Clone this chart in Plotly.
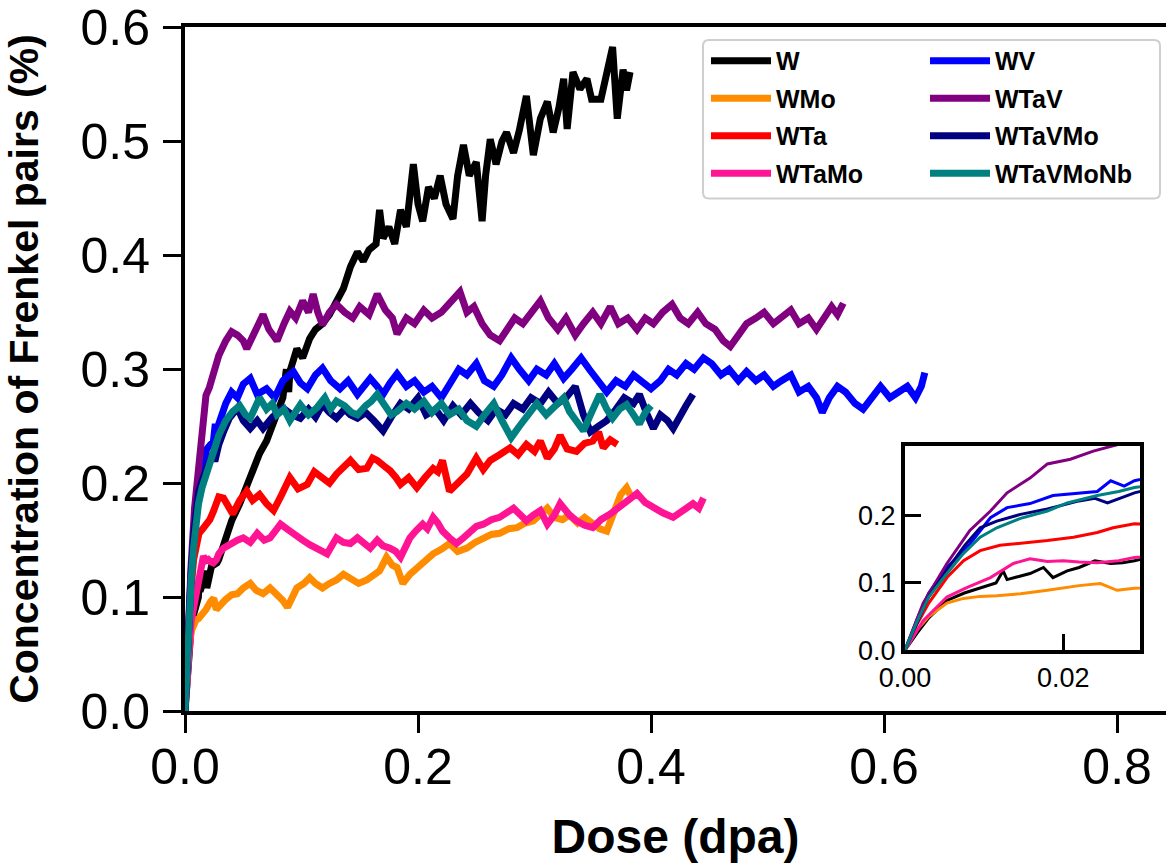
import plotly.graph_objects as go

# ---------------- data (dose in dpa, concentration in %) ----------------
W_x = [0, 0.0015, 0.003, 0.0053, 0.0075, 0.0095, 0.0115, 0.0124, 0.0129, 0.0145, 0.0158, 0.0175, 0.0187, 0.0205, 0.022, 0.024, 0.026, 0.0275, 0.029,
       0.035, 0.04, 0.047, 0.052, 0.056, 0.06, 0.064, 0.07, 0.076, 0.08, 0.084, 0.087, 0.089, 0.09, 0.096, 0.101, 0.107, 0.112, 0.118, 0.124,
       0.13, 0.136, 0.142, 0.148, 0.153, 0.158, 0.164, 0.167, 0.17, 0.175, 0.18, 0.185, 0.19, 0.196, 0.2, 0.204, 0.209, 0.214, 0.219, 0.224,
       0.23, 0.234, 0.239, 0.244, 0.25, 0.255, 0.258, 0.262, 0.267, 0.272, 0.276, 0.282, 0.287, 0.293, 0.299, 0.305, 0.311, 0.316, 0.321,
       0.325, 0.328, 0.333, 0.339, 0.345, 0.349, 0.357, 0.367, 0.371, 0.376, 0.379, 0.382]
W_y = [0, 0.025, 0.048, 0.074, 0.085, 0.093, 0.1, 0.118, 0.105, 0.11, 0.114, 0.123, 0.108, 0.118, 0.123, 0.133, 0.129, 0.13, 0.133,
       0.15, 0.167, 0.182, 0.195, 0.208, 0.215, 0.226, 0.237, 0.255, 0.265, 0.275, 0.3, 0.28, 0.298, 0.318, 0.31, 0.327, 0.335, 0.34, 0.348,
       0.36, 0.371, 0.39, 0.403, 0.395, 0.405, 0.41, 0.44, 0.415, 0.425, 0.41, 0.44, 0.425, 0.48, 0.445, 0.43, 0.46, 0.45, 0.47, 0.445,
       0.432, 0.47, 0.497, 0.47, 0.482, 0.43, 0.47, 0.502, 0.48, 0.5, 0.508, 0.49, 0.51, 0.54, 0.488, 0.52, 0.535, 0.508, 0.53,
       0.555, 0.511, 0.561, 0.546, 0.555, 0.537, 0.537, 0.583, 0.52, 0.563, 0.545, 0.561]

WMo_x = [0, 0.0015, 0.003, 0.0053, 0.0074, 0.0095, 0.0116, 0.0146, 0.018, 0.022, 0.0247, 0.0268, 0.029,
         0.035, 0.04, 0.045, 0.05, 0.056, 0.061, 0.067, 0.073, 0.079, 0.084, 0.088, 0.092, 0.096, 0.102, 0.107, 0.112, 0.118, 0.124,
         0.13, 0.136, 0.142, 0.149, 0.156, 0.162, 0.167, 0.173, 0.178, 0.182, 0.187, 0.193, 0.199, 0.206, 0.213, 0.22, 0.227, 0.234,
         0.242, 0.249, 0.256, 0.263, 0.27, 0.278, 0.285, 0.292, 0.299, 0.305, 0.311, 0.317, 0.324, 0.33, 0.337, 0.343, 0.35, 0.356,
         0.362, 0.368, 0.374, 0.379, 0.382]
WMo_y = [0, 0.03, 0.05, 0.07, 0.077, 0.08, 0.081, 0.084, 0.089, 0.096, 0.099, 0.089, 0.092,
         0.098, 0.102, 0.103, 0.108, 0.112, 0.106, 0.103, 0.108, 0.103, 0.097, 0.091, 0.1, 0.108, 0.112, 0.117, 0.112, 0.108, 0.112,
         0.115, 0.12, 0.117, 0.112, 0.115, 0.12, 0.123, 0.135, 0.128, 0.126, 0.112, 0.12, 0.126, 0.132, 0.138, 0.142, 0.147, 0.14,
         0.143, 0.148, 0.152, 0.155, 0.156, 0.16, 0.161, 0.165, 0.167, 0.172, 0.178, 0.17, 0.168, 0.172, 0.165, 0.17, 0.165, 0.16,
         0.158, 0.175, 0.19, 0.196, 0.19]

WTa_x = [0, 0.0015, 0.003, 0.0053, 0.0074, 0.0095, 0.012, 0.0146, 0.018, 0.0213, 0.0243, 0.0263, 0.029,
         0.033, 0.037, 0.041, 0.047, 0.053, 0.058, 0.064, 0.07, 0.076, 0.083, 0.09, 0.097, 0.105, 0.111, 0.118, 0.124, 0.13, 0.136,
         0.142, 0.149, 0.156, 0.161, 0.165, 0.171, 0.176, 0.181, 0.185, 0.192, 0.199, 0.206, 0.213, 0.217, 0.221, 0.227, 0.234,
         0.242, 0.246, 0.25, 0.256, 0.262, 0.27, 0.279, 0.286, 0.293, 0.3, 0.305, 0.311, 0.317, 0.322, 0.328, 0.336, 0.343, 0.35,
         0.355, 0.359, 0.365, 0.371]
WTa_y = [0, 0.038, 0.07, 0.108, 0.133, 0.148, 0.156, 0.159, 0.163, 0.168, 0.175, 0.182, 0.188,
         0.187, 0.18, 0.173, 0.185, 0.193, 0.185, 0.19, 0.182, 0.176, 0.19, 0.205, 0.195, 0.199, 0.21, 0.205, 0.2, 0.208, 0.215,
         0.22, 0.212, 0.213, 0.222, 0.22, 0.215, 0.211, 0.205, 0.199, 0.205, 0.196, 0.205, 0.213, 0.21, 0.22, 0.193, 0.2,
         0.208, 0.215, 0.222, 0.212, 0.22, 0.225, 0.231, 0.225, 0.234, 0.228, 0.237, 0.222, 0.23, 0.242, 0.23, 0.228, 0.235, 0.237,
         0.245, 0.231, 0.238, 0.234]

WTaMo_x = [0, 0.0023, 0.0053, 0.0078, 0.0108, 0.0137, 0.0158, 0.018, 0.02, 0.022, 0.0243, 0.027, 0.029,
           0.033, 0.039, 0.045, 0.05, 0.056, 0.062, 0.068, 0.073, 0.078, 0.082, 0.09, 0.095, 0.101, 0.107, 0.113, 0.122, 0.126, 0.13,
           0.136, 0.142, 0.148, 0.153, 0.159, 0.165, 0.17, 0.176, 0.181, 0.185, 0.189, 0.193, 0.198, 0.204, 0.208, 0.213, 0.217,
           0.221, 0.227, 0.233, 0.239, 0.245, 0.25, 0.256, 0.263, 0.27, 0.276, 0.282, 0.288, 0.293, 0.299, 0.305, 0.311, 0.317,
           0.322, 0.33, 0.336, 0.343, 0.35, 0.357, 0.365, 0.372, 0.38, 0.388, 0.395, 0.402, 0.41, 0.419, 0.427, 0.436, 0.441, 0.445]
WTaMo_y = [0, 0.044, 0.079, 0.093, 0.108, 0.129, 0.136, 0.132, 0.133, 0.131, 0.13, 0.133, 0.138,
           0.143, 0.147, 0.15, 0.152, 0.148, 0.156, 0.15, 0.152, 0.16, 0.164, 0.158, 0.155, 0.15, 0.146, 0.143, 0.138, 0.145, 0.152,
           0.148, 0.147, 0.152, 0.147, 0.143, 0.15, 0.145, 0.143, 0.14, 0.135, 0.145, 0.152, 0.158, 0.164, 0.16, 0.17, 0.165,
           0.158, 0.152, 0.147, 0.152, 0.158, 0.162, 0.164, 0.168, 0.17, 0.174, 0.178, 0.172, 0.167, 0.172, 0.176, 0.164, 0.172,
           0.182, 0.172, 0.167, 0.163, 0.161, 0.168, 0.173, 0.178, 0.184, 0.191, 0.183, 0.178, 0.174, 0.17, 0.176, 0.182, 0.178, 0.187]

WV_x = [0, 0.0015, 0.003, 0.0053, 0.0082, 0.0108, 0.0129, 0.0158, 0.0187, 0.022, 0.0243, 0.026, 0.0277, 0.029,
        0.035, 0.04, 0.045, 0.05, 0.056, 0.062, 0.07, 0.077, 0.084, 0.093, 0.099, 0.105, 0.112, 0.118, 0.125, 0.133, 0.14, 0.148,
        0.154, 0.159, 0.165, 0.17, 0.176, 0.182, 0.19, 0.197, 0.205, 0.212, 0.22, 0.228, 0.235, 0.242, 0.25, 0.257, 0.265, 0.272,
        0.28, 0.287, 0.295, 0.302, 0.31, 0.317, 0.325, 0.332, 0.34, 0.347, 0.355, 0.362, 0.37, 0.378, 0.385, 0.392, 0.4, 0.408,
        0.415, 0.422, 0.43, 0.437, 0.445, 0.452, 0.46, 0.467, 0.475, 0.482, 0.49, 0.497, 0.505, 0.512, 0.52, 0.527, 0.535, 0.542,
        0.547, 0.553, 0.56, 0.567, 0.575, 0.582, 0.59, 0.597, 0.605, 0.612, 0.62, 0.627, 0.632, 0.635]
WV_y = [0, 0.045, 0.085, 0.123, 0.158, 0.197, 0.212, 0.218, 0.23, 0.234, 0.236, 0.252, 0.244, 0.252,
        0.27, 0.28, 0.275, 0.287, 0.292, 0.278, 0.283, 0.275, 0.29, 0.298, 0.288, 0.283, 0.295, 0.301, 0.29, 0.283, 0.29, 0.278,
        0.285, 0.292, 0.285, 0.278, 0.288, 0.296, 0.285, 0.29, 0.28, 0.285, 0.275, 0.29, 0.3, 0.295, 0.305, 0.29, 0.285, 0.295,
        0.31, 0.3, 0.29, 0.3, 0.295, 0.305, 0.292, 0.3, 0.31, 0.3, 0.29, 0.28, 0.29, 0.285, 0.295, 0.29, 0.283, 0.29,
        0.3, 0.295, 0.305, 0.3, 0.31, 0.305, 0.295, 0.3, 0.29, 0.298, 0.29, 0.295, 0.285, 0.29, 0.295, 0.28, 0.285, 0.275,
        0.262, 0.275, 0.285, 0.28, 0.27, 0.265, 0.275, 0.285, 0.275, 0.28, 0.285, 0.275, 0.285, 0.297]

WTaV_x = [0, 0.0023, 0.0053, 0.0082, 0.0108, 0.0129, 0.0158, 0.018, 0.0209, 0.0238, 0.0263, 0.029,
          0.035, 0.04, 0.045, 0.05, 0.053, 0.058, 0.063, 0.067, 0.072, 0.079, 0.085, 0.09, 0.095, 0.101, 0.106, 0.11, 0.114, 0.118,
          0.124, 0.13, 0.137, 0.144, 0.15, 0.158, 0.165, 0.172, 0.178, 0.182, 0.19, 0.197, 0.205, 0.212, 0.22, 0.228, 0.236, 0.242,
          0.248, 0.255, 0.262, 0.27, 0.276, 0.283, 0.29, 0.297, 0.305, 0.312, 0.32, 0.327, 0.335, 0.342, 0.35, 0.357, 0.365, 0.372,
          0.38, 0.388, 0.395, 0.402, 0.41, 0.418, 0.425, 0.432, 0.44, 0.447, 0.455, 0.462, 0.468, 0.475, 0.482, 0.49, 0.497, 0.505,
          0.512, 0.52, 0.527, 0.535, 0.542, 0.548, 0.555, 0.56, 0.565]
WTaV_y = [0, 0.07, 0.129, 0.178, 0.207, 0.234, 0.256, 0.277, 0.284, 0.296, 0.304, 0.312,
          0.325, 0.333, 0.33, 0.325, 0.318, 0.33, 0.34, 0.348, 0.335, 0.325, 0.34, 0.351, 0.345, 0.36, 0.35, 0.366, 0.35, 0.339,
          0.35, 0.357, 0.35, 0.345, 0.355, 0.348, 0.366, 0.352, 0.345, 0.331, 0.345, 0.34, 0.352, 0.345, 0.35, 0.36, 0.368, 0.35,
          0.355, 0.34, 0.33, 0.325, 0.335, 0.345, 0.34, 0.35, 0.36, 0.345, 0.335, 0.345, 0.33, 0.34, 0.35, 0.34, 0.355, 0.34,
          0.345, 0.335, 0.345, 0.34, 0.35, 0.357, 0.345, 0.34, 0.35, 0.34, 0.335, 0.325, 0.32, 0.33, 0.34, 0.345, 0.35, 0.34,
          0.345, 0.352, 0.34, 0.345, 0.335, 0.345, 0.355, 0.348, 0.358]

WTaVMo_x = [0, 0.0015, 0.003, 0.0053, 0.0075, 0.0095, 0.0116, 0.0146, 0.018, 0.022, 0.024, 0.0256, 0.0275, 0.029,
            0.033, 0.038, 0.045, 0.05, 0.056, 0.062, 0.067, 0.075, 0.084, 0.092, 0.099, 0.106, 0.112, 0.118, 0.124, 0.13, 0.137,
            0.142, 0.148, 0.155, 0.162, 0.17, 0.177, 0.185, 0.192, 0.2, 0.207, 0.215, 0.222, 0.23, 0.237, 0.245, 0.252, 0.26,
            0.267, 0.275, 0.282, 0.29, 0.297, 0.305, 0.312, 0.32, 0.327, 0.335, 0.342, 0.348, 0.355, 0.362, 0.37, 0.377, 0.385,
            0.39, 0.396, 0.402, 0.408, 0.414, 0.419, 0.425, 0.43, 0.436]
WTaVMo_y = [0, 0.04, 0.08, 0.119, 0.155, 0.182, 0.192, 0.202, 0.21, 0.222, 0.226, 0.219, 0.228, 0.234,
            0.245, 0.257, 0.266, 0.255, 0.248, 0.255, 0.248, 0.258, 0.266, 0.26, 0.257, 0.265, 0.258, 0.269, 0.262, 0.257, 0.265,
            0.26, 0.257, 0.262, 0.255, 0.246, 0.258, 0.27, 0.265, 0.275, 0.26, 0.265, 0.255, 0.268, 0.26, 0.27, 0.262, 0.255,
            0.265, 0.26, 0.27, 0.265, 0.275, 0.27, 0.28, 0.27, 0.275, 0.285, 0.26, 0.245, 0.25, 0.255, 0.265, 0.275, 0.27,
            0.278, 0.262, 0.248, 0.26, 0.255, 0.248, 0.26, 0.268, 0.278]

WTaVMoNb_x = [0, 0.0015, 0.003, 0.0053, 0.0074, 0.0095, 0.0116, 0.0146, 0.018, 0.0205, 0.0243, 0.027, 0.029,
              0.035, 0.041, 0.047, 0.052, 0.056, 0.06, 0.064, 0.07, 0.075, 0.079, 0.085, 0.09, 0.095, 0.099, 0.106, 0.113, 0.12,
              0.125, 0.13, 0.137, 0.143, 0.148, 0.155, 0.16, 0.165, 0.172, 0.177, 0.182, 0.19, 0.197, 0.205, 0.212, 0.22, 0.227,
              0.235, 0.242, 0.25, 0.257, 0.265, 0.272, 0.28, 0.287, 0.295, 0.302, 0.31, 0.317, 0.325, 0.33, 0.336, 0.342, 0.348,
              0.356, 0.362, 0.367, 0.373, 0.379, 0.385, 0.39, 0.395, 0.4]
WTaVMoNb_y = [0, 0.042, 0.079, 0.114, 0.144, 0.168, 0.182, 0.196, 0.207, 0.219, 0.23, 0.236, 0.242,
              0.255, 0.263, 0.268, 0.26, 0.257, 0.266, 0.275, 0.265, 0.27, 0.26, 0.265, 0.255, 0.262, 0.269, 0.26, 0.266, 0.275,
              0.265, 0.272, 0.268, 0.262, 0.26, 0.268, 0.272, 0.278, 0.268, 0.26, 0.263, 0.27, 0.265, 0.272, 0.262, 0.27, 0.26,
              0.265, 0.255, 0.25, 0.26, 0.27, 0.255, 0.24, 0.25, 0.262, 0.27, 0.26, 0.268, 0.275, 0.263, 0.255, 0.246, 0.26,
              0.278, 0.265, 0.257, 0.265, 0.269, 0.26, 0.252, 0.262, 0.268]

names = ["W", "WMo", "WTa", "WTaMo", "WV", "WTaV", "WTaVMo", "WTaVMoNb"]
xs = [W_x, WMo_x, WTa_x, WTaMo_x, WV_x, WTaV_x, WTaVMo_x, WTaVMoNb_x]
ys = [W_y, WMo_y, WTa_y, WTaMo_y, WV_y, WTaV_y, WTaVMo_y, WTaVMoNb_y]
colors = ["#000000", "#FF8C00", "#FF0000", "#FF1493", "#0000FF", "#800080", "#000080", "#008080"]
legend_ids = ["legend", "legend", "legend", "legend", "legend2", "legend2", "legend2", "legend2"]

x_ticks = [0.0, 0.2, 0.4, 0.6, 0.8]
y_ticks = [0.0, 0.1, 0.2, 0.3, 0.4, 0.5, 0.6]
inset_x_ticks = [0.0, 0.02]
inset_y_ticks = [0.0, 0.1, 0.2]

FONT = "Liberation Sans, Arial, Helvetica, sans-serif"

fig = go.Figure()
for n, x, y, c, lg in zip(names, xs, ys, colors, legend_ids):
    fig.add_trace(go.Scatter(x=x, y=y, mode="lines", name=n, legend=lg, legendgroup=n,
                             line=dict(color=c, width=7), xaxis="x", yaxis="y"))
for n, x, y, c in zip(names, xs, ys, colors):
    fig.add_trace(go.Scatter(x=x, y=y, mode="lines", name=n, showlegend=False,
                             line=dict(color=c, width=3), xaxis="x2", yaxis="y2"))

# plot-area geometry in pixels
L, T, B = 185, 25, 157
W_fig, H_fig = 1166, 868
pw, ph = W_fig - L, H_fig - T - B


def px2paper(px, py):
    return (px - L) / pw, (H_fig - B - py) / ph


# legend box (rounded)
x0, y0 = px2paper(703, 38)
x1, y1 = px2paper(1160, 197)
rx, ry = 6 / pw, 6 / ph
path = (f"M{x0+rx},{y0} L{x1-rx},{y0} Q{x1},{y0} {x1},{y0-ry} L{x1},{y1+ry} Q{x1},{y1} {x1-rx},{y1} "
        f"L{x0+rx},{y1} Q{x0},{y1} {x0},{y1+ry} L{x0},{y0-ry} Q{x0},{y0} {x0+rx},{y0} Z")
fig.add_shape(type="path", path=path, xref="paper", yref="paper",
              line=dict(color="#cfcfcf", width=2), fillcolor="rgba(255,255,255,0.9)", layer="below")

ix0, iy0 = px2paper(905, 650)
ix1, iy1 = px2paper(1140, 445)

legend_common = dict(xanchor="left", yanchor="top", bgcolor="rgba(0,0,0,0)",
                     font=dict(family=FONT, size=25, color="black", weight="bold"),
                     itemwidth=60, tracegroupgap=2)
lx1, ly = px2paper(706, 36)
lx2, _ = px2paper(925, 36)

fig.update_layout(
    width=W_fig, height=H_fig,
    margin=dict(l=L, r=0, t=T, b=B),
    paper_bgcolor="white", plot_bgcolor="white",
    font=dict(family=FONT, color="black"),
    legend=dict(x=lx1, y=ly, **legend_common),
    legend2=dict(x=lx2, y=ly, **legend_common),
    xaxis=dict(domain=[0, 1], range=[0, 0.842], tickvals=x_ticks, tickformat=".1f",
               showline=True, linecolor="black", linewidth=4, mirror=True,
               ticks="outside", ticklen=18, tickwidth=3, tickcolor="black",
               showgrid=False, zeroline=False, ticklabelstandoff=-9, ticklabeloverflow="allow",
               tickfont=dict(family=FONT, size=50, color="black"),
               title=dict(text="Dose (dpa)", font=dict(family=FONT, size=48, color="black", weight="bold"),
                          standoff=26)),
    yaxis=dict(domain=[0, 1], range=[0, 0.6005], tickvals=y_ticks, tickformat=".1f",
               showline=True, linecolor="black", linewidth=4, mirror=False,
               ticks="outside", ticklen=18, tickwidth=3, tickcolor="black",
               showgrid=False, zeroline=False, ticklabelstandoff=3, ticklabeloverflow="allow",
               tickfont=dict(family=FONT, size=50, color="black"),
               title=dict(text="Concentration of Frenkel pairs (%)",
                          font=dict(family=FONT, size=41, color="black", weight="bold"), standoff=30)),
    xaxis2=dict(domain=[ix0, ix1], anchor="y2", range=[0, 0.0297], tickvals=inset_x_ticks, tickformat=".2f",
                showline=True, linecolor="black", linewidth=4, mirror=True,
                ticks="inside", ticklen=16, tickwidth=3, tickcolor="black",
                showgrid=False, zeroline=False,
                tickfont=dict(family=FONT, size=27, color="black")),
    yaxis2=dict(domain=[iy0, iy1], anchor="x2", range=[0, 0.304], tickvals=inset_y_ticks, tickformat=".1f",
                showline=True, linecolor="black", linewidth=4, mirror=True,
                ticks="inside", ticklen=16, tickwidth=3, tickcolor="black",
                showgrid=False, zeroline=False,
                tickfont=dict(family=FONT, size=27, color="black")),
    showlegend=True,
)

fig.write_html("out.html")
